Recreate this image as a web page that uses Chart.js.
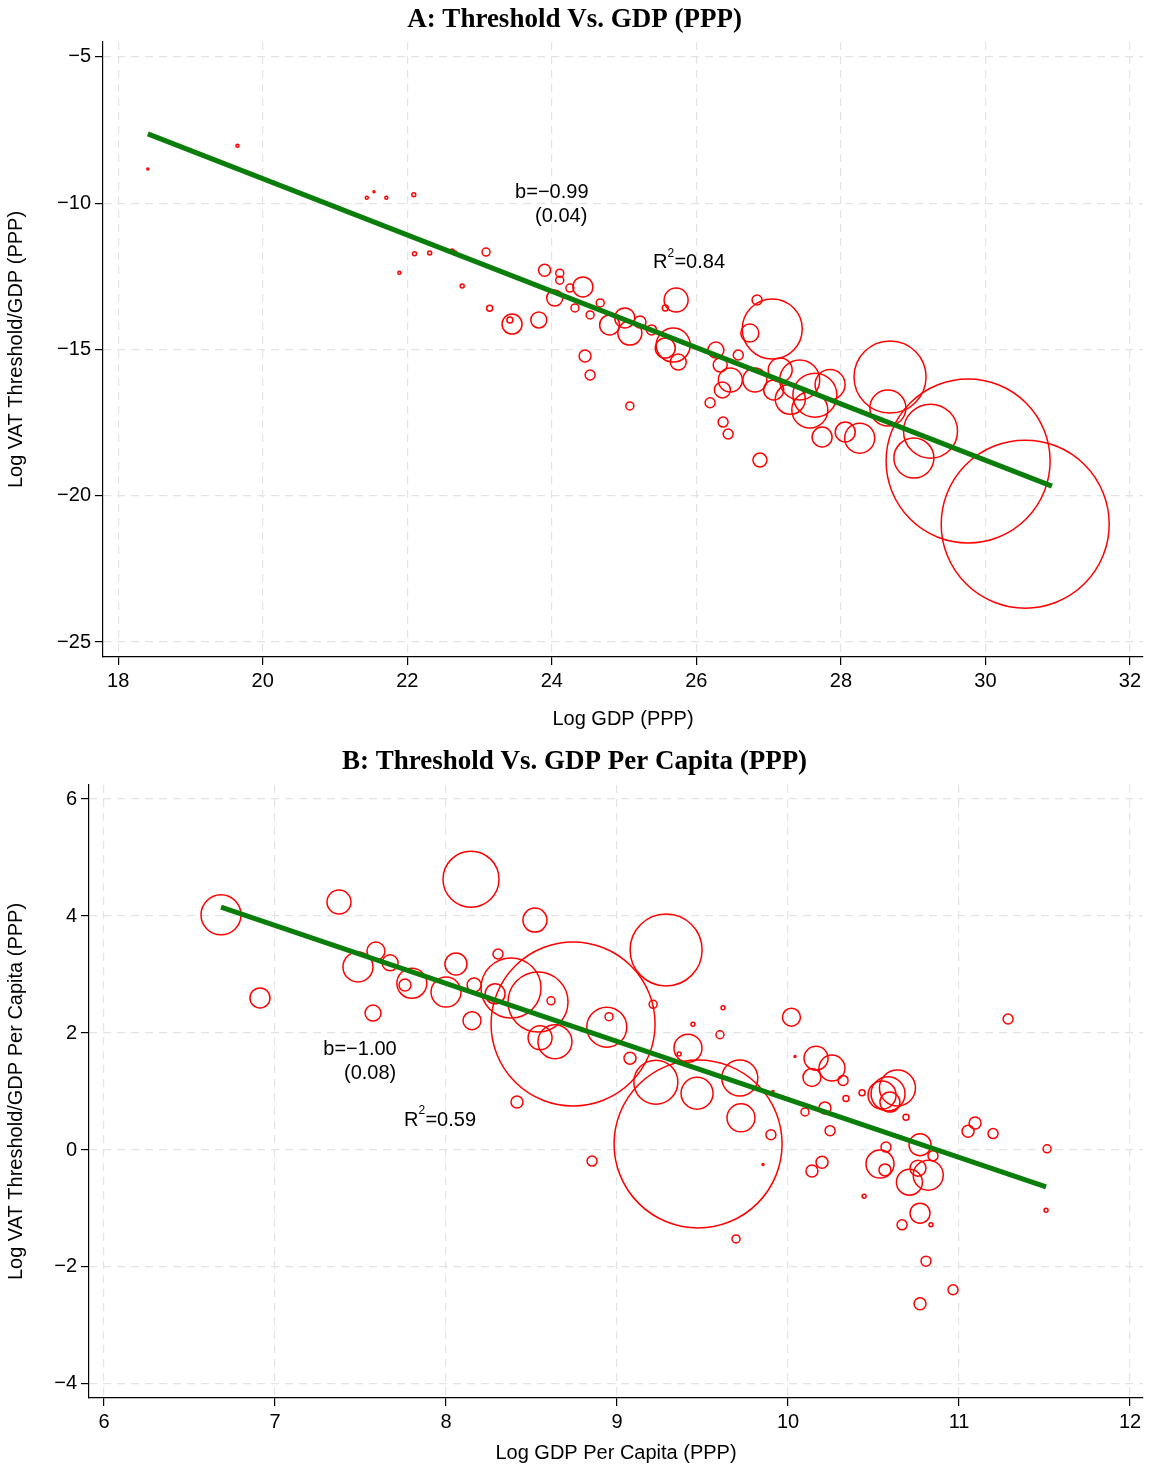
<!DOCTYPE html>
<html>
<head>
<meta charset="utf-8">
<script src="https://cdn.jsdelivr.net/npm/chart.js@4"></script>
<style>
  body { margin: 0; background: #fff; }
  .wrap { position: relative; width: 1149px; }
  canvas { display: block; }
</style>
</head>
<body>
<div class="wrap" style="height:735px"><canvas id="chartA"></canvas></div>
<div class="wrap" style="height:734px"><canvas id="chartB"></canvas></div>
<script>
// Panel A : log GDP vs log threshold/GDP
const xA = [30.55, 29.76, 28.68, 29.24, 29.01, 27.05, 28.65, 28.26, 28.06, 27.43, 27.64, 27.57, 27.85, 27.30, 27.16, 26.81, 26.47, 27.07, 27.74, 26.74, 26.84, 25.72, 25.68, 25.57, 25.75, 26.27, 26.33, 26.36, 26.58, 26.19, 26.37, 26.44, 26.88, 25.08, 25.01, 24.80, 25.22, 25.38, 24.67, 24.53, 24.43, 24.46, 24.53, 25.08, 24.04, 23.90, 24.11, 24.25, 23.45, 23.82, 24.11, 24.32, 23.14, 23.09, 22.76, 22.66, 22.62, 22.31, 22.10, 22.09, 21.89, 21.71, 21.54, 21.44, 19.65, 18.41, 23.42, 25.57];
const yA = [-20.97, -18.81, -15.94, -17.79, -18.71, -14.30, -17.00, -18.03, -17.82, -16.04, -16.56, -17.07, -16.20, -16.70, -15.70, -16.04, -16.04, -16.38, -17.99, -14.44, -13.31, -13.31, -14.85, -14.95, -15.43, -15.02, -15.53, -16.38, -15.19, -16.82, -17.48, -17.89, -18.78, -14.44, -13.92, -14.16, -14.06, -14.33, -13.41, -13.82, -12.86, -15.22, -15.87, -16.93, -13.24, -12.29, -12.39, -12.90, -14.13, -13.99, -12.63, -13.58, -13.59, -11.67, -12.83, -11.70, -11.63, -11.70, -11.73, -9.71, -12.38, -9.81, -9.61, -9.81, -8.04, -8.83, -13.99, -13.58];
const rA = [84, 82, 36, 27, 20, 30, 18, 15, 10, 20, 22, 18, 15, 15, 12, 12, 12, 10, 10, 9, 5, 12, 17, 10, 8, 8, 7, 8, 5, 5, 5, 5, 7, 12, 10, 10, 6, 5, 4, 4, 10, 6, 5, 4, 8, 6, 4, 4, 10, 8, 4, 4, 3, 4, 2, 2, 2, 2, 2, 2, 1.5, 1.5, 1, 1.5, 1.5, 1, 3, 3];
const fitXA = [18.41, 30.92];
const fitYA = [-7.63, -19.67];
const ticksXA = [18, 20, 22, 24, 26, 28, 30, 32];
const ticksYA = [-5, -10, -15, -20, -25];

// Panel B : log GDP per capita vs log threshold/GDP per capita
const xB = [9.474, 8.743, 9.287, 8.146, 6.684, 8.380, 8.538, 8.940, 9.227, 9.718, 9.468, 9.415, 9.725, 8.637, 8.550, 7.485, 7.800, 8.000, 8.058, 8.287, 8.520, 7.374, 7.590, 7.673, 6.912, 7.573, 8.152, 8.164, 7.760, 8.415, 8.304, 8.614, 8.854, 8.953, 9.076, 9.211, 9.602, 9.696, 9.900, 10.020, 10.164, 10.140, 10.257, 10.216, 10.246, 10.099, 10.140, 10.199, 10.322, 10.585, 10.640, 10.550, 10.596, 10.538, 10.567, 10.573, 10.772, 10.820, 10.710, 10.760, 10.772, 10.667, 10.807, 10.772, 10.965, 10.848, 11.053, 11.094, 11.199, 11.287, 11.515, 11.509, 10.445, 10.836, 9.912, 9.620, 9.444, 9.363, 9.854, 10.041, 10.690, 10.433, 10.339];
const yB = [0.103, 2.154, 3.420, 4.630, 4.020, 2.770, 2.530, 2.100, 1.160, 1.230, 0.970, 1.740, 0.550, 1.850, 1.920, 3.130, 2.850, 2.700, 3.180, 2.670, 3.930, 4.240, 3.400, 3.200, 2.600, 2.340, 2.210, 2.820, 2.820, 0.820, 3.350, 2.550, -0.190, 2.280, 1.570, 2.490, 1.970, -1.520, 0.260, 2.270, 1.570, 1.240, 1.400, 0.720, 0.330, 0.650, -0.360, -0.210, 1.190, 0.960, 1.060, 0.940, 0.820, -0.240, -0.340, 0.050, 0.090, -0.430, -0.550, -0.310, -1.080, -1.280, -1.900, -2.630, -2.390, -0.100, 0.320, 0.460, 0.280, 2.240, 0.020, -1.030, -0.790, -1.280, 1.000, 2.430, 2.150, 1.640, -0.250, 1.600, 0.560, 0.980, 0.880];
const rB = [84, 82, 36, 28, 20, 30, 30, 20, 22, 18, 16, 14, 14, 17, 12, 15, 15, 15, 11, 10, 12, 12, 9, 8, 10, 8, 9, 7, 6, 6, 5, 4, 5, 4, 6, 4, 4, 4, 5, 9, 12, 9, 13, 6, 5, 4, 6, 6, 5, 17, 18, 14, 10, 14, 6, 5, 11, 15, 13, 8, 10, 5, 5, 6, 5, 5, 6, 6, 5, 5, 4, 2, 2, 2, 1, 2, 2, 2, 1, 1, 3, 3, 3];
const fitXB = [6.684, 11.509];
const fitYB = [4.154, -0.632];
const ticksXB = [6, 7, 8, 9, 10, 11, 12];
const ticksYB = [6, 4, 2, 0, -2, -4];

const tickFont = { family: 'Liberation Sans, Arial, sans-serif', size: 20 };

function makeScale(min, max, ticks, title, fitSize, horizontal)
{
    return {
        type: 'linear',
        min: min,
        max: max,
        afterBuildTicks: axis => { axis.ticks = ticks.map(v => ({ value: v })); },
        afterFit: axis => {
            if (horizontal) axis.height = fitSize; else axis.width = fitSize;
        },
        grid: {
            color: '#e4e4e4',
            lineWidth: 1.2,
            tickColor: '#000',
            tickLength: 8,
            tickBorderDash: [],
        },
        // dash applies to grid lines, axis line itself stays solid
        border: { display: true, color: '#000', width: 1.2, dash: [8, 6] },
        ticks: {
            color: '#000',
            font: tickFont,
            padding: 4,
            maxRotation: 0,
            callback: v => String(v).replace('-', '\u2212'),
        },
        title: { display: true, text: title, color: '#000', font: tickFont, padding: { top: 4, bottom: 4 } },
    };
}

const notesPlugin = {
    id: 'notes',
    afterDraw(chart)
    {
        const o = chart.options.plugins.notes;
        const ctx = chart.ctx;
        const sx = chart.scales.x, sy = chart.scales.y;
        ctx.save();
        ctx.fillStyle = '#000';
        ctx.font = 'bold 27px "Liberation Serif", "DejaVu Serif", serif';
        ctx.textAlign = 'center';
        ctx.textBaseline = 'middle';
        ctx.fillText(o.title, chart.width / 2, o.titleY);
        ctx.font = '20px "Liberation Sans", Arial, sans-serif';
        ctx.fillText(o.b, sx.getPixelForValue(o.bPos[0]), sy.getPixelForValue(o.bPos[1]));
        ctx.fillText(o.se, sx.getPixelForValue(o.sePos[0]), sy.getPixelForValue(o.sePos[1]));
        ctx.textAlign = 'left';
        const rx = sx.getPixelForValue(o.rPos[0]), ry = sy.getPixelForValue(o.rPos[1]);
        ctx.fillText('R', rx, ry);
        const w = ctx.measureText('R').width;
        ctx.font = '12px "Liberation Sans", Arial, sans-serif';
        ctx.fillText('2', rx + w, ry - 9);
        ctx.font = '20px "Liberation Sans", Arial, sans-serif';
        ctx.fillText(o.r2, rx + w + 7, ry);
        ctx.restore();
    }
};

function buildChart(id, xs, ys, rs, fx, fy, sc, notes, pad)
{
    const pts = xs.map((x, i) => ({ x: x, y: ys[i], r: rs[i] }));
    return new Chart(document.getElementById(id), {
        type: 'bubble',
        data: {
            datasets: [
                {
                    type: 'line',
                    data: fx.map((x, i) => ({ x: x, y: fy[i] })),
                    borderColor: '#0a7d0a',
                    borderWidth: 5,
                    pointRadius: 0,
                    order: 0,
                },
                {
                    data: pts,
                    borderColor: '#ff0000',
                    backgroundColor: 'rgba(0,0,0,0)',
                    borderWidth: 1.5,
                    clip: false,
                    order: 1,
                },
            ],
        },
        options: {
            responsive: true,
            maintainAspectRatio: false,
            animation: false,
            layout: { padding: pad, autoPadding: false },
            plugins: { legend: { display: false }, tooltip: { enabled: false }, notes: notes },
            scales: sc,
        },
        plugins: [notesPlugin],
    });
}

buildChart('chartA', xA, yA, rA, fitXA, fitYA, {
    x: makeScale(17.79, 32.18, ticksXA, 'Log GDP (PPP)', 78, true),
    y: makeScale(-25.51, -4.49, ticksYA, 'Log VAT Threshold/GDP (PPP)', 103, false),
}, {
    title: 'A: Threshold Vs. GDP (PPP)', titleY: 20,
    b: 'b=\u22120.99', bPos: [24.0, -9.62],
    se: '(0.04)', sePos: [24.13, -10.44],
    r2: '=0.84', rPos: [25.4, -12.04],
}, { top: 42, right: 6, left: 0, bottom: 0 });

buildChart('chartB', xB, yB, rB, fitXB, fitYB, {
    x: makeScale(5.912, 12.076, ticksXB, 'Log GDP Per Capita (PPP)', 71, true),
    y: makeScale(-4.24, 6.24, ticksYB, 'Log VAT Threshold/GDP Per Capita (PPP)', 89, false),
}, {
    title: 'B: Threshold Vs. GDP Per Capita (PPP)', titleY: 27,
    b: 'b=\u22121.00', bPos: [7.497, 1.71],
    se: '(0.08)', sePos: [7.556, 1.30],
    r2: '=0.59', rPos: [7.754, 0.513],
}, { top: 50, right: 6, left: 0, bottom: 0 });
</script>
</body>
</html>
